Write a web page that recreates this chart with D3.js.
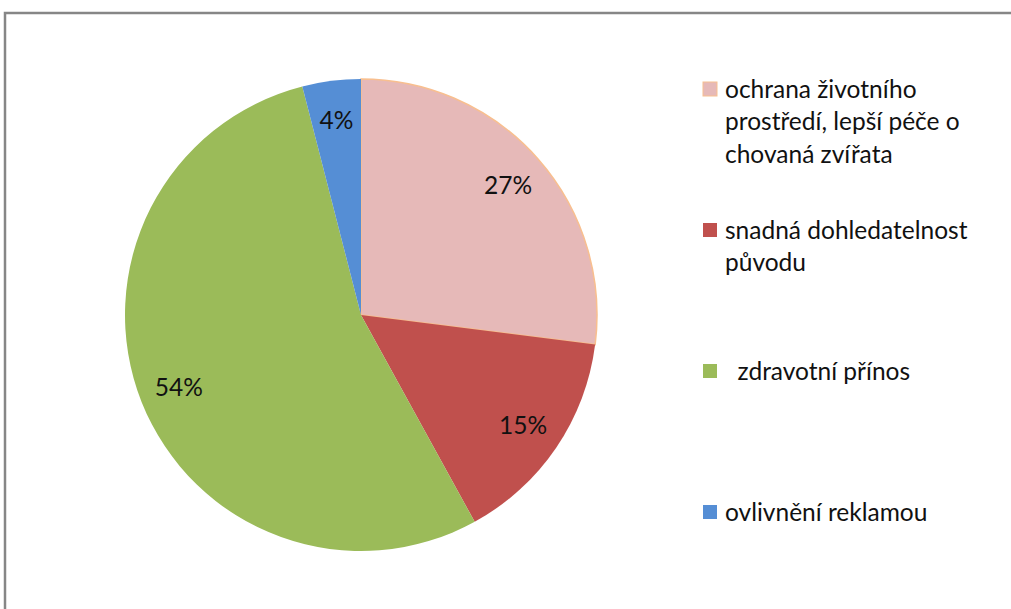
<!DOCTYPE html>
<html>
<head>
<meta charset="utf-8">
<script src="https://cdn.jsdelivr.net/npm/d3@7"></script>
<style>
body { margin: 0; background: #fff; }
text { font-family: Lato, "Open Sans", sans-serif; fill: #111; }
</style>
</head>
<body>
<div id="chart"></div>
<script>
var width = 1011;
var height = 609;

// data
var categories = [
	"ochrana životního\nprostředí, lepší péče o\nchovaná zvířata",
	"snadná dohledatelnost\npůvodu",
	"  zdravotní přínos",
	"ovlivnění reklamou"
];
var values = [27, 15, 54, 4];
var colors = ["#e6b9b8", "#c0504d", "#9bbb59", "#558ed5"];

var svg = d3.select("#chart").append("svg")
	.attr("width", width)
	.attr("height", height);

// chart area border (right and bottom run off the picture)
svg.append("rect")
	.attr("x", 5)
	.attr("y", 13)
	.attr("width", width + 20)
	.attr("height", height + 20)
	.attr("fill", "none")
	.attr("stroke", "#868686")
	.attr("stroke-width", 2.5);

var cx = 361, cy = 315, radius = 236;

var pie = d3.pie().sort(null).value(function(d) { return d; });
var arc = d3.arc().innerRadius(0).outerRadius(radius);
var labelArc = d3.arc().innerRadius(196).outerRadius(196);

var g = svg.append("g")
	.attr("transform", "translate(" + cx + "," + cy + ")");

var slices = g.selectAll("g.slice")
	.data(pie(values))
	.enter().append("g")
	.attr("class", "slice");

slices.append("path")
	.attr("d", arc)
	.attr("fill", function(d, i) { return colors[i]; })
	.attr("stroke", function(d, i) { return i == 0 ? "#f8bf8f" : "none"; })
	.attr("stroke-width", 1.5);

slices.append("text")
	.attr("transform", function(d) { return "translate(" + labelArc.centroid(d) + ")"; })
	.attr("text-anchor", "middle")
	.attr("dy", "0.36em")
	.style("font-size", "24.5px")
	.text(function(d) { return d.data + "%"; });

// legend
var legendY = d3.scalePoint()
	.domain(d3.range(categories.length))
	.range([89, 512]);

var legend = svg.selectAll("g.legend")
	.data(categories)
	.enter().append("g")
	.attr("class", "legend")
	.attr("transform", function(d, i) { return "translate(703," + legendY(i) + ")"; });

legend.append("rect")
	.attr("x", 0)
	.attr("y", -7)
	.attr("width", 14)
	.attr("height", 14)
	.attr("fill", function(d, i) { return colors[i]; })
	.attr("stroke", function(d, i) { return i == 0 ? "#f8bf8f" : "none"; });

legend.append("text")
	.attr("x", 22)
	.style("font-size", "24.5px")
	.style("white-space", "pre")
	.attr("xml:space", "preserve")
	.selectAll("tspan")
	.data(function(d) { return d.split("\n"); })
	.enter().append("tspan")
	.attr("x", 22)
	.attr("y", function(d, i) { return i * 32.5; })
	.attr("dy", "0.36em")
	.text(function(d) { return d; });
</script>
</body>
</html>
